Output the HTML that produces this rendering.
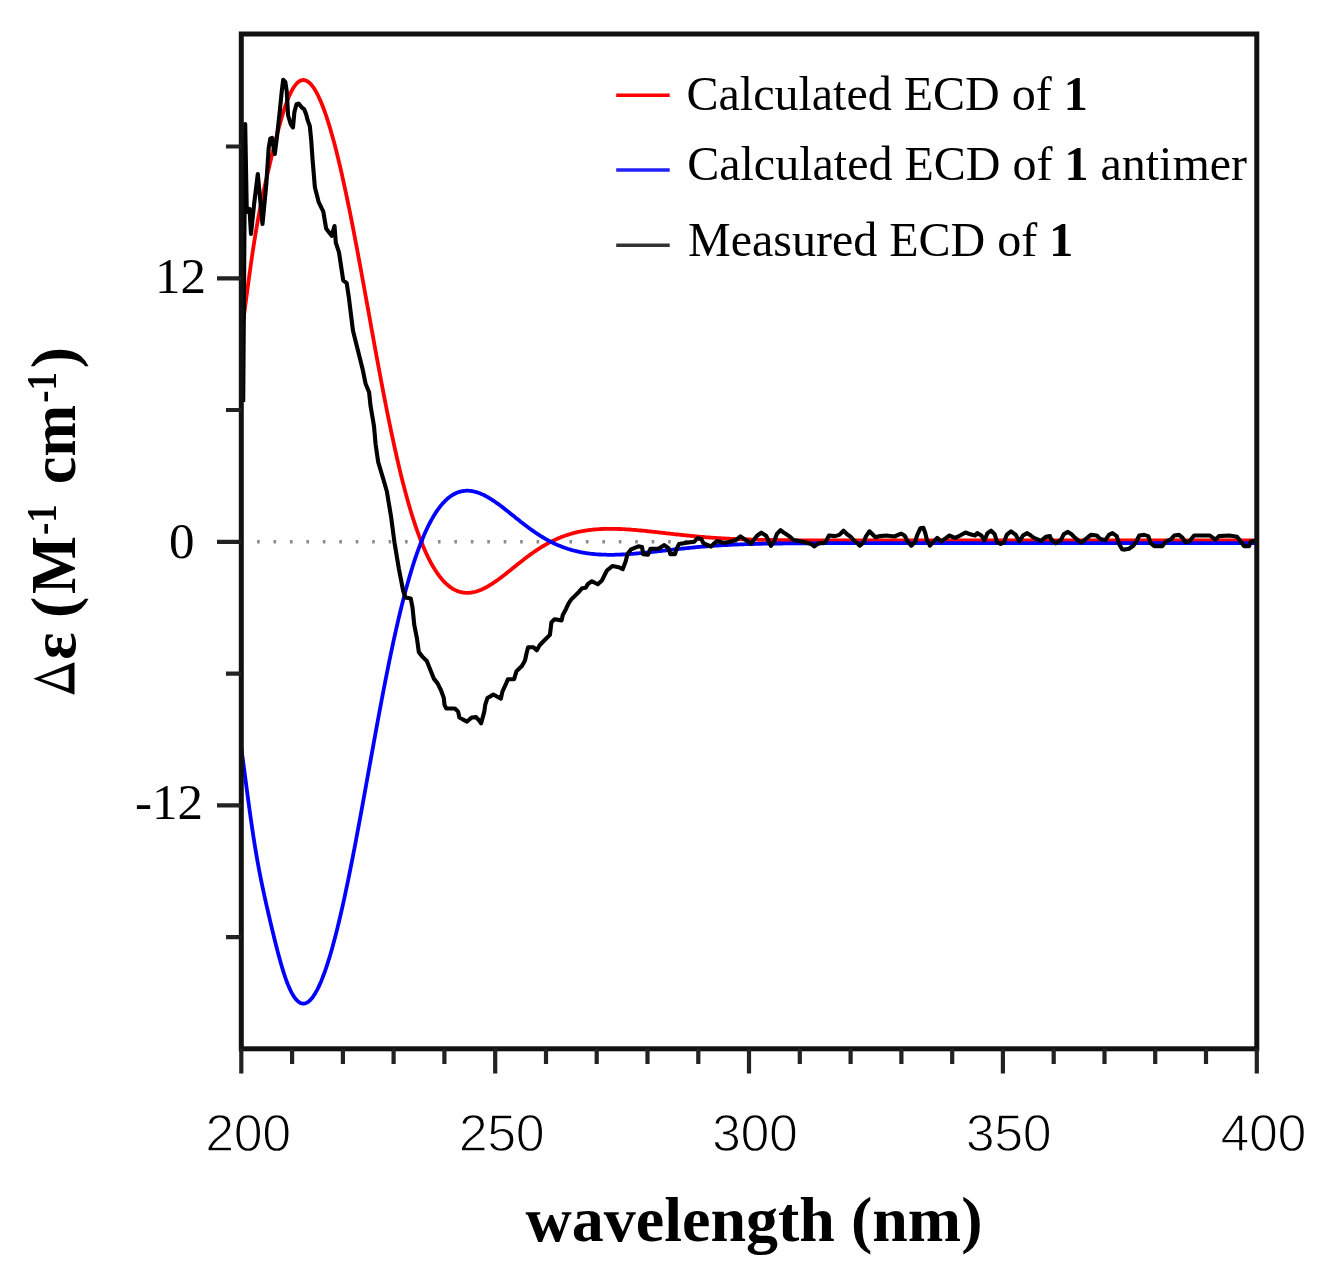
<!DOCTYPE html>
<html><head><meta charset="utf-8"><style>
html,body{margin:0;padding:0;background:#fff;width:1328px;height:1286px;overflow:hidden}
svg{position:absolute;left:0;top:0;will-change:transform}
</style></head><body>
<svg width="1328" height="1286" viewBox="0 0 1328 1286">
<rect x="0" y="0" width="1328" height="1286" fill="#fff"/>
<line x1="257.1" y1="541.8" x2="1254.8" y2="541.8" stroke="#8a8a8a" stroke-width="3.5" stroke-dasharray="2.6 13.84"/>
<path d="M241.3,335.7 L242.3,328.2 L243.3,320.7 L244.3,313.1 L245.3,305.5 L246.3,297.9 L247.3,290.4 L248.3,282.9 L249.3,275.6 L250.3,268.4 L251.3,261.3 L252.3,254.5 L253.3,247.8 L254.3,241.4 L255.3,235.2 L256.3,229.2 L257.3,223.5 L258.3,217.9 L259.3,212.6 L260.3,207.4 L261.3,202.4 L262.3,197.6 L263.3,192.9 L264.3,188.2 L265.3,183.7 L266.3,179.3 L267.3,174.9 L268.3,170.6 L269.3,166.3 L270.3,162.0 L271.3,157.8 L272.3,153.6 L273.3,149.5 L274.3,145.4 L275.3,141.4 L276.3,137.4 L277.3,133.5 L278.3,129.7 L279.3,126.0 L280.3,122.4 L281.3,118.9 L282.3,115.5 L283.3,112.2 L284.3,109.1 L285.3,106.1 L286.3,103.3 L287.3,100.6 L288.3,98.1 L289.3,95.8 L290.3,93.6 L291.3,91.5 L292.3,89.7 L293.3,88.0 L294.3,86.5 L295.3,85.1 L296.3,83.9 L297.3,82.9 L298.3,82.0 L299.3,81.3 L300.3,80.7 L301.3,80.3 L302.3,80.1 L303.3,80.0 L304.3,80.1 L305.3,80.3 L306.3,80.7 L307.3,81.2 L308.3,81.9 L309.3,82.7 L310.3,83.6 L311.3,84.7 L312.3,85.9 L313.3,87.3 L314.3,88.8 L315.3,90.4 L316.3,92.2 L317.3,94.0 L318.3,96.0 L319.3,98.2 L320.3,100.4 L321.3,102.7 L322.3,105.2 L323.3,107.8 L324.3,110.5 L325.3,113.3 L326.3,116.2 L327.3,119.3 L328.3,122.4 L329.3,125.6 L330.3,128.9 L331.3,132.4 L332.3,135.9 L333.3,139.5 L334.3,143.3 L335.3,147.1 L336.3,151.0 L337.3,155.0 L338.3,159.1 L339.3,163.3 L340.3,167.5 L341.3,171.8 L342.3,176.3 L343.3,180.8 L344.3,185.3 L345.3,190.0 L346.3,194.7 L347.3,199.5 L348.3,204.3 L349.3,209.2 L350.3,214.2 L351.3,219.2 L352.3,224.3 L353.3,229.4 L354.3,234.6 L355.3,239.8 L356.3,245.1 L357.3,250.4 L358.3,255.8 L359.3,261.2 L360.3,266.6 L361.3,272.0 L362.3,277.5 L363.3,283.0 L364.3,288.5 L365.3,294.0 L366.3,299.6 L367.3,305.1 L368.3,310.7 L369.3,316.2 L370.3,321.7 L371.3,327.3 L372.3,332.8 L373.3,338.3 L374.3,343.8 L375.3,349.3 L376.3,354.8 L377.3,360.2 L378.3,365.6 L379.3,371.0 L380.3,376.3 L381.3,381.6 L382.3,386.9 L383.3,392.1 L384.3,397.3 L385.3,402.4 L386.3,407.5 L387.3,412.5 L388.3,417.5 L389.3,422.4 L390.3,427.2 L391.3,432.0 L392.3,436.7 L393.3,441.4 L394.3,446.0 L395.3,450.5 L396.3,455.0 L397.3,459.3 L398.3,463.7 L399.3,467.9 L400.3,472.1 L401.3,476.2 L402.3,480.2 L403.3,484.1 L404.3,488.0 L405.3,491.8 L406.3,495.5 L407.3,499.1 L408.3,502.7 L409.3,506.1 L410.3,509.5 L411.3,512.9 L412.3,516.1 L413.3,519.3 L414.3,522.4 L415.3,525.4 L416.3,528.3 L417.3,531.2 L418.3,533.9 L419.3,536.6 L420.3,539.3 L421.3,541.8 L422.3,544.3 L423.3,546.7 L424.3,549.1 L425.3,551.3 L426.3,553.5 L427.3,555.6 L428.3,557.7 L429.3,559.7 L430.3,561.6 L431.3,563.5 L432.3,565.2 L433.3,567.0 L434.3,568.6 L435.3,570.2 L436.3,571.7 L437.3,573.2 L438.3,574.6 L439.3,576.0 L440.3,577.3 L441.3,578.5 L442.3,579.7 L443.3,580.8 L444.3,581.8 L445.3,582.9 L446.3,583.8 L447.3,584.7 L448.3,585.6 L449.3,586.4 L450.3,587.1 L451.3,587.8 L452.3,588.5 L453.3,589.1 L454.3,589.6 L455.3,590.1 L456.3,590.6 L457.3,591.0 L458.3,591.4 L459.3,591.7 L460.3,592.0 L461.3,592.2 L462.3,592.4 L463.3,592.6 L464.3,592.7 L465.3,592.8 L466.3,592.9 L467.3,592.9 L468.3,592.9 L469.3,592.8 L470.3,592.7 L471.3,592.6 L472.3,592.4 L473.3,592.2 L474.3,592.0 L475.3,591.8 L476.3,591.5 L477.3,591.2 L478.3,590.8 L479.3,590.5 L480.3,590.1 L481.3,589.7 L482.3,589.2 L483.3,588.8 L484.3,588.3 L485.3,587.8 L486.3,587.2 L487.3,586.7 L488.3,586.1 L489.3,585.5 L490.3,584.9 L491.3,584.3 L492.3,583.6 L493.3,583.0 L494.3,582.3 L495.3,581.6 L496.3,580.9 L497.3,580.2 L498.3,579.5 L499.3,578.8 L500.3,578.0 L501.3,577.3 L502.3,576.5 L503.3,575.7 L504.3,575.0 L505.3,574.2 L506.3,573.4 L507.3,572.6 L508.3,571.8 L509.3,571.0 L510.3,570.2 L511.3,569.4 L512.3,568.6 L513.3,567.8 L514.3,567.0 L515.3,566.2 L516.3,565.4 L517.3,564.6 L518.3,563.8 L519.3,563.0 L520.3,562.2 L521.3,561.4 L522.3,560.7 L523.3,559.9 L524.3,559.1 L525.3,558.3 L526.3,557.6 L527.3,556.8 L528.3,556.1 L529.3,555.4 L530.3,554.6 L531.3,553.9 L532.3,553.2 L533.3,552.5 L534.3,551.8 L535.3,551.1 L536.3,550.4 L537.3,549.8 L538.3,549.1 L539.3,548.5 L540.3,547.8 L541.3,547.2 L542.3,546.6 L543.3,546.0 L544.3,545.4 L545.3,544.8 L546.3,544.2 L547.3,543.7 L548.3,543.1 L549.3,542.6 L550.3,542.1 L551.3,541.6 L552.3,541.1 L553.3,540.6 L554.3,540.1 L555.3,539.6 L556.3,539.2 L557.3,538.7 L558.3,538.3 L559.3,537.9 L560.3,537.5 L561.3,537.1 L562.3,536.7 L563.3,536.3 L564.3,536.0 L565.3,535.6 L566.3,535.3 L567.3,534.9 L568.3,534.6 L569.3,534.3 L570.3,534.0 L571.3,533.7 L572.3,533.4 L573.3,533.1 L574.3,532.9 L575.3,532.6 L576.3,532.4 L577.3,532.2 L578.3,531.9 L579.3,531.7 L580.3,531.5 L581.3,531.3 L582.3,531.1 L583.3,531.0 L584.3,530.8 L585.3,530.6 L586.3,530.5 L587.3,530.3 L588.3,530.2 L589.3,530.0 L590.3,529.9 L591.3,529.8 L592.3,529.7 L593.3,529.6 L594.3,529.5 L595.3,529.4 L596.3,529.3 L597.3,529.3 L598.3,529.2 L599.3,529.1 L600.3,529.1 L601.3,529.0 L602.3,529.0 L603.3,528.9 L604.3,528.9 L605.3,528.9 L606.3,528.9 L607.3,528.8 L608.3,528.8 L609.3,528.8 L610.3,528.8 L611.3,528.8 L612.3,528.8 L613.3,528.8 L614.3,528.8 L615.3,528.9 L616.3,528.9 L617.3,528.9 L618.3,529.0 L619.3,529.0 L620.3,529.0 L621.3,529.1 L622.3,529.1 L623.3,529.2 L624.3,529.2 L625.3,529.3 L626.3,529.3 L627.3,529.4 L628.3,529.5 L629.3,529.5 L630.3,529.6 L631.3,529.7 L632.3,529.8 L633.3,529.8 L634.3,529.9 L635.3,530.0 L636.3,530.1 L637.3,530.2 L638.3,530.3 L639.3,530.4 L640.3,530.5 L641.3,530.5 L642.3,530.6 L643.3,530.7 L644.3,530.8 L645.3,530.9 L646.3,531.0 L647.3,531.1 L648.3,531.3 L649.3,531.4 L650.3,531.5 L651.3,531.6 L652.3,531.7 L653.3,531.8 L654.3,531.9 L655.3,532.0 L656.3,532.1 L657.3,532.2 L658.3,532.4 L659.3,532.5 L660.3,532.6 L661.3,532.7 L662.3,532.8 L663.3,532.9 L664.3,533.0 L665.3,533.1 L666.3,533.3 L667.3,533.4 L668.3,533.5 L669.3,533.6 L670.3,533.7 L671.3,533.8 L672.3,533.9 L673.3,534.0 L674.3,534.2 L675.3,534.3 L676.3,534.4 L677.3,534.5 L678.3,534.6 L679.3,534.7 L680.3,534.8 L681.3,534.9 L682.3,535.0 L683.3,535.1 L684.3,535.2 L685.3,535.3 L686.3,535.4 L687.3,535.5 L688.3,535.6 L689.3,535.7 L690.3,535.8 L691.3,535.9 L692.3,536.0 L693.3,536.1 L694.3,536.2 L695.3,536.3 L696.3,536.4 L697.3,536.5 L698.3,536.6 L699.3,536.7 L700.3,536.8 L701.3,536.9 L702.3,536.9 L703.3,537.0 L704.3,537.1 L705.3,537.2 L706.3,537.3 L707.3,537.3 L708.3,537.4 L709.3,537.5 L710.3,537.6 L711.3,537.6 L712.3,537.7 L713.3,537.8 L714.3,537.9 L715.3,537.9 L716.3,538.0 L717.3,538.1 L718.3,538.1 L719.3,538.2 L720.3,538.2 L721.3,538.3 L722.3,538.4 L723.3,538.4 L724.3,538.5 L725.3,538.5 L726.3,538.6 L727.3,538.6 L728.3,538.7 L729.3,538.7 L730.3,538.8 L731.3,538.8 L732.3,538.9 L733.3,538.9 L734.3,539.0 L735.3,539.0 L736.3,539.1 L737.3,539.1 L738.3,539.2 L739.3,539.2 L740.3,539.2 L741.3,539.3 L742.3,539.3 L743.3,539.3 L744.3,539.4 L745.3,539.4 L746.3,539.4 L747.3,539.5 L748.3,539.5 L749.3,539.5 L750.3,539.6 L751.3,539.6 L752.3,539.6 L753.3,539.6 L754.3,539.7 L755.3,539.7 L756.3,539.7 L757.3,539.7 L758.3,539.8 L759.3,539.8 L760.3,539.8 L761.3,539.8 L762.3,539.9 L763.3,539.9 L764.3,539.9 L765.3,539.9 L766.3,539.9 L767.3,540.0 L768.3,540.0 L769.3,540.0 L770.3,540.0 L771.3,540.0 L772.3,540.0 L773.3,540.0 L774.3,540.1 L775.3,540.1 L776.3,540.1 L777.3,540.1 L778.3,540.1 L779.3,540.1 L780.3,540.1 L781.3,540.1 L782.3,540.1 L783.3,540.2 L784.3,540.2 L785.3,540.2 L786.3,540.2 L787.3,540.2 L788.3,540.2 L789.3,540.2 L790.3,540.2 L791.3,540.2 L792.3,540.2 L793.3,540.2 L794.3,540.2 L795.3,540.3 L796.3,540.3 L797.3,540.3 L798.3,540.3 L799.3,540.3 L800.3,540.3 L801.3,540.3 L802.3,540.3 L803.3,540.3 L804.3,540.3 L805.3,540.3 L806.3,540.3 L807.3,540.3 L808.3,540.3 L809.3,540.3 L810.3,540.3 L811.3,540.3 L812.3,540.3 L813.3,540.3 L814.3,540.3 L815.3,540.3 L816.3,540.3 L817.3,540.3 L818.3,540.3 L819.3,540.3 L820.3,540.3 L821.3,540.3 L822.3,540.3 L823.3,540.3 L824.3,540.4 L825.3,540.4 L826.3,540.4 L827.3,540.4 L828.3,540.4 L829.3,540.4 L830.3,540.4 L831.3,540.4 L832.3,540.4 L833.3,540.4 L834.3,540.4 L835.3,540.4 L836.3,540.4 L837.3,540.4 L838.3,540.4 L839.3,540.4 L840.3,540.4 L841.3,540.4 L842.3,540.4 L843.3,540.4 L844.3,540.4 L845.3,540.4 L846.3,540.4 L847.3,540.4 L848.3,540.4 L849.3,540.4 L850.3,540.4 L851.3,540.4 L852.3,540.4 L853.3,540.4 L854.3,540.4 L855.3,540.4 L856.3,540.4 L857.3,540.4 L858.3,540.4 L859.3,540.4 L860.3,540.4 L861.3,540.4 L862.3,540.4 L863.3,540.4 L864.3,540.4 L865.3,540.4 L866.3,540.4 L867.3,540.4 L868.3,540.4 L869.3,540.4 L870.3,540.4 L871.3,540.4 L872.3,540.4 L873.3,540.4 L874.3,540.4 L875.3,540.4 L876.3,540.4 L877.3,540.4 L878.3,540.4 L879.3,540.4 L880.3,540.4 L881.3,540.4 L882.3,540.4 L883.3,540.4 L884.3,540.4 L885.3,540.4 L886.3,540.4 L887.3,540.4 L888.3,540.4 L889.3,540.4 L890.3,540.4 L891.3,540.4 L892.3,540.4 L893.3,540.4 L894.3,540.4 L895.3,540.4 L896.3,540.4 L897.3,540.4 L898.3,540.4 L899.3,540.4 L900.3,540.4 L901.3,540.4 L902.3,540.4 L903.3,540.4 L904.3,540.4 L905.3,540.4 L906.3,540.4 L907.3,540.4 L908.3,540.4 L909.3,540.4 L910.3,540.4 L911.3,540.4 L912.3,540.4 L913.3,540.4 L914.3,540.4 L915.3,540.4 L916.3,540.4 L917.3,540.4 L918.3,540.4 L919.3,540.4 L920.3,540.4 L921.3,540.4 L922.3,540.4 L923.3,540.4 L924.3,540.4 L925.3,540.4 L926.3,540.4 L927.3,540.4 L928.3,540.4 L929.3,540.4 L930.3,540.4 L931.3,540.4 L932.3,540.4 L933.3,540.4 L934.3,540.4 L935.3,540.4 L936.3,540.4 L937.3,540.4 L938.3,540.4 L939.3,540.4 L940.3,540.4 L941.3,540.4 L942.3,540.4 L943.3,540.4 L944.3,540.4 L945.3,540.4 L946.3,540.4 L947.3,540.4 L948.3,540.4 L949.3,540.4 L950.3,540.4 L951.3,540.4 L952.3,540.4 L953.3,540.4 L954.3,540.4 L955.3,540.4 L956.3,540.4 L957.3,540.4 L958.3,540.4 L959.3,540.4 L960.3,540.4 L961.3,540.4 L962.3,540.4 L963.3,540.4 L964.3,540.4 L965.3,540.4 L966.3,540.4 L967.3,540.4 L968.3,540.4 L969.3,540.4 L970.3,540.4 L971.3,540.4 L972.3,540.4 L973.3,540.4 L974.3,540.4 L975.3,540.4 L976.3,540.4 L977.3,540.4 L978.3,540.4 L979.3,540.4 L980.3,540.4 L981.3,540.4 L982.3,540.4 L983.3,540.4 L984.3,540.4 L985.3,540.4 L986.3,540.4 L987.3,540.4 L988.3,540.4 L989.3,540.4 L990.3,540.4 L991.3,540.4 L992.3,540.4 L993.3,540.4 L994.3,540.4 L995.3,540.4 L996.3,540.4 L997.3,540.4 L998.3,540.4 L999.3,540.4 L1000.3,540.4 L1001.3,540.4 L1002.3,540.4 L1003.3,540.4 L1004.3,540.4 L1005.3,540.4 L1006.3,540.4 L1007.3,540.4 L1008.3,540.4 L1009.3,540.4 L1010.3,540.4 L1011.3,540.4 L1012.3,540.4 L1013.3,540.4 L1014.3,540.4 L1015.3,540.4 L1016.3,540.4 L1017.3,540.4 L1018.3,540.4 L1019.3,540.4 L1020.3,540.4 L1021.3,540.4 L1022.3,540.4 L1023.3,540.4 L1024.3,540.4 L1025.3,540.4 L1026.3,540.4 L1027.3,540.4 L1028.3,540.4 L1029.3,540.4 L1030.3,540.4 L1031.3,540.4 L1032.3,540.4 L1033.3,540.4 L1034.3,540.4 L1035.3,540.4 L1036.3,540.4 L1037.3,540.4 L1038.3,540.4 L1039.3,540.4 L1040.3,540.4 L1041.3,540.4 L1042.3,540.4 L1043.3,540.4 L1044.3,540.4 L1045.3,540.4 L1046.3,540.4 L1047.3,540.4 L1048.3,540.4 L1049.3,540.4 L1050.3,540.4 L1051.3,540.4 L1052.3,540.4 L1053.3,540.4 L1054.3,540.4 L1055.3,540.4 L1056.3,540.4 L1057.3,540.4 L1058.3,540.4 L1059.3,540.4 L1060.3,540.4 L1061.3,540.4 L1062.3,540.4 L1063.3,540.4 L1064.3,540.4 L1065.3,540.4 L1066.3,540.4 L1067.3,540.4 L1068.3,540.4 L1069.3,540.4 L1070.3,540.4 L1071.3,540.4 L1072.3,540.4 L1073.3,540.4 L1074.3,540.4 L1075.3,540.4 L1076.3,540.4 L1077.3,540.4 L1078.3,540.4 L1079.3,540.4 L1080.3,540.4 L1081.3,540.4 L1082.3,540.4 L1083.3,540.4 L1084.3,540.4 L1085.3,540.4 L1086.3,540.4 L1087.3,540.4 L1088.3,540.4 L1089.3,540.4 L1090.3,540.4 L1091.3,540.4 L1092.3,540.4 L1093.3,540.4 L1094.3,540.4 L1095.3,540.4 L1096.3,540.4 L1097.3,540.4 L1098.3,540.4 L1099.3,540.4 L1100.3,540.4 L1101.3,540.4 L1102.3,540.4 L1103.3,540.4 L1104.3,540.4 L1105.3,540.4 L1106.3,540.4 L1107.3,540.4 L1108.3,540.4 L1109.3,540.4 L1110.3,540.4 L1111.3,540.4 L1112.3,540.4 L1113.3,540.4 L1114.3,540.4 L1115.3,540.4 L1116.3,540.4 L1117.3,540.4 L1118.3,540.4 L1119.3,540.4 L1120.3,540.4 L1121.3,540.4 L1122.3,540.4 L1123.3,540.4 L1124.3,540.4 L1125.3,540.4 L1126.3,540.4 L1127.3,540.4 L1128.3,540.4 L1129.3,540.4 L1130.3,540.4 L1131.3,540.4 L1132.3,540.4 L1133.3,540.4 L1134.3,540.4 L1135.3,540.4 L1136.3,540.4 L1137.3,540.4 L1138.3,540.4 L1139.3,540.4 L1140.3,540.4 L1141.3,540.4 L1142.3,540.4 L1143.3,540.4 L1144.3,540.4 L1145.3,540.4 L1146.3,540.4 L1147.3,540.4 L1148.3,540.4 L1149.3,540.4 L1150.3,540.4 L1151.3,540.4 L1152.3,540.4 L1153.3,540.4 L1154.3,540.4 L1155.3,540.4 L1156.3,540.4 L1157.3,540.4 L1158.3,540.4 L1159.3,540.4 L1160.3,540.4 L1161.3,540.4 L1162.3,540.4 L1163.3,540.4 L1164.3,540.4 L1165.3,540.4 L1166.3,540.4 L1167.3,540.4 L1168.3,540.4 L1169.3,540.4 L1170.3,540.4 L1171.3,540.4 L1172.3,540.4 L1173.3,540.4 L1174.3,540.4 L1175.3,540.4 L1176.3,540.4 L1177.3,540.4 L1178.3,540.4 L1179.3,540.4 L1180.3,540.4 L1181.3,540.4 L1182.3,540.4 L1183.3,540.4 L1184.3,540.4 L1185.3,540.4 L1186.3,540.4 L1187.3,540.4 L1188.3,540.4 L1189.3,540.4 L1190.3,540.4 L1191.3,540.4 L1192.3,540.4 L1193.3,540.4 L1194.3,540.4 L1195.3,540.4 L1196.3,540.4 L1197.3,540.4 L1198.3,540.4 L1199.3,540.4 L1200.3,540.4 L1201.3,540.4 L1202.3,540.4 L1203.3,540.4 L1204.3,540.4 L1205.3,540.4 L1206.3,540.4 L1207.3,540.4 L1208.3,540.4 L1209.3,540.4 L1210.3,540.4 L1211.3,540.4 L1212.3,540.4 L1213.3,540.4 L1214.3,540.4 L1215.3,540.4 L1216.3,540.4 L1217.3,540.4 L1218.3,540.4 L1219.3,540.4 L1220.3,540.4 L1221.3,540.4 L1222.3,540.4 L1223.3,540.4 L1224.3,540.4 L1225.3,540.4 L1226.3,540.4 L1227.3,540.4 L1228.3,540.4 L1229.3,540.4 L1230.3,540.4 L1231.3,540.4 L1232.3,540.4 L1233.3,540.4 L1234.3,540.4 L1235.3,540.4 L1236.3,540.4 L1237.3,540.4 L1238.3,540.4 L1239.3,540.4 L1240.3,540.4 L1241.3,540.4 L1242.3,540.4 L1243.3,540.4 L1244.3,540.4 L1245.3,540.4 L1246.3,540.4 L1247.3,540.4 L1248.3,540.4 L1249.3,540.4 L1250.3,540.4 L1251.3,540.4 L1252.3,540.4 L1253.3,540.4 L1254.3,540.4 L1255.3,540.4 L1256.3,540.4" fill="none" stroke="#ff0000" stroke-width="3.8" stroke-linejoin="round"/>
<path d="M241.3,747.9 L242.3,755.4 L243.3,762.9 L244.3,770.5 L245.3,778.1 L246.3,785.7 L247.3,793.2 L248.3,800.7 L249.3,808.0 L250.3,815.2 L251.3,822.3 L252.3,829.1 L253.3,835.8 L254.3,842.2 L255.3,848.4 L256.3,854.4 L257.3,860.1 L258.3,865.7 L259.3,871.0 L260.3,876.2 L261.3,881.2 L262.3,886.0 L263.3,890.7 L264.3,895.4 L265.3,899.9 L266.3,904.3 L267.3,908.7 L268.3,913.0 L269.3,917.3 L270.3,921.6 L271.3,925.8 L272.3,930.0 L273.3,934.1 L274.3,938.2 L275.3,942.2 L276.3,946.2 L277.3,950.1 L278.3,953.9 L279.3,957.6 L280.3,961.2 L281.3,964.7 L282.3,968.1 L283.3,971.4 L284.3,974.5 L285.3,977.5 L286.3,980.3 L287.3,983.0 L288.3,985.5 L289.3,987.8 L290.3,990.0 L291.3,992.1 L292.3,993.9 L293.3,995.6 L294.3,997.1 L295.3,998.5 L296.3,999.7 L297.3,1000.7 L298.3,1001.6 L299.3,1002.3 L300.3,1002.9 L301.3,1003.3 L302.3,1003.5 L303.3,1003.6 L304.3,1003.5 L305.3,1003.3 L306.3,1002.9 L307.3,1002.4 L308.3,1001.7 L309.3,1000.9 L310.3,1000.0 L311.3,998.9 L312.3,997.7 L313.3,996.3 L314.3,994.8 L315.3,993.2 L316.3,991.4 L317.3,989.6 L318.3,987.6 L319.3,985.4 L320.3,983.2 L321.3,980.9 L322.3,978.4 L323.3,975.8 L324.3,973.1 L325.3,970.3 L326.3,967.4 L327.3,964.3 L328.3,961.2 L329.3,958.0 L330.3,954.7 L331.3,951.2 L332.3,947.7 L333.3,944.1 L334.3,940.3 L335.3,936.5 L336.3,932.6 L337.3,928.6 L338.3,924.5 L339.3,920.3 L340.3,916.1 L341.3,911.8 L342.3,907.3 L343.3,902.8 L344.3,898.3 L345.3,893.6 L346.3,888.9 L347.3,884.1 L348.3,879.3 L349.3,874.4 L350.3,869.4 L351.3,864.4 L352.3,859.3 L353.3,854.2 L354.3,849.0 L355.3,843.8 L356.3,838.5 L357.3,833.2 L358.3,827.8 L359.3,822.4 L360.3,817.0 L361.3,811.6 L362.3,806.1 L363.3,800.6 L364.3,795.1 L365.3,789.6 L366.3,784.0 L367.3,778.5 L368.3,772.9 L369.3,767.4 L370.3,761.9 L371.3,756.3 L372.3,750.8 L373.3,745.3 L374.3,739.8 L375.3,734.3 L376.3,728.8 L377.3,723.4 L378.3,718.0 L379.3,712.6 L380.3,707.3 L381.3,702.0 L382.3,696.7 L383.3,691.5 L384.3,686.3 L385.3,681.2 L386.3,676.1 L387.3,671.1 L388.3,666.1 L389.3,661.2 L390.3,656.4 L391.3,651.6 L392.3,646.9 L393.3,642.2 L394.3,637.6 L395.3,633.1 L396.3,628.6 L397.3,624.3 L398.3,619.9 L399.3,615.7 L400.3,611.5 L401.3,607.4 L402.3,603.4 L403.3,599.5 L404.3,595.6 L405.3,591.8 L406.3,588.1 L407.3,584.5 L408.3,580.9 L409.3,577.5 L410.3,574.1 L411.3,570.7 L412.3,567.5 L413.3,564.3 L414.3,561.2 L415.3,558.2 L416.3,555.3 L417.3,552.4 L418.3,549.7 L419.3,547.0 L420.3,544.3 L421.3,541.8 L422.3,539.3 L423.3,536.9 L424.3,534.5 L425.3,532.3 L426.3,530.1 L427.3,528.0 L428.3,525.9 L429.3,523.9 L430.3,522.0 L431.3,520.1 L432.3,518.4 L433.3,516.6 L434.3,515.0 L435.3,513.4 L436.3,511.9 L437.3,510.4 L438.3,509.0 L439.3,507.6 L440.3,506.3 L441.3,505.1 L442.3,503.9 L443.3,502.8 L444.3,501.8 L445.3,500.7 L446.3,499.8 L447.3,498.9 L448.3,498.0 L449.3,497.2 L450.3,496.5 L451.3,495.8 L452.3,495.1 L453.3,494.5 L454.3,494.0 L455.3,493.5 L456.3,493.0 L457.3,492.6 L458.3,492.2 L459.3,491.9 L460.3,491.6 L461.3,491.4 L462.3,491.2 L463.3,491.0 L464.3,490.9 L465.3,490.8 L466.3,490.7 L467.3,490.7 L468.3,490.7 L469.3,490.8 L470.3,490.9 L471.3,491.0 L472.3,491.2 L473.3,491.4 L474.3,491.6 L475.3,491.8 L476.3,492.1 L477.3,492.4 L478.3,492.8 L479.3,493.1 L480.3,493.5 L481.3,493.9 L482.3,494.4 L483.3,494.8 L484.3,495.3 L485.3,495.8 L486.3,496.4 L487.3,496.9 L488.3,497.5 L489.3,498.1 L490.3,498.7 L491.3,499.3 L492.3,500.0 L493.3,500.6 L494.3,501.3 L495.3,502.0 L496.3,502.7 L497.3,503.4 L498.3,504.1 L499.3,504.8 L500.3,505.6 L501.3,506.3 L502.3,507.1 L503.3,507.9 L504.3,508.6 L505.3,509.4 L506.3,510.2 L507.3,511.0 L508.3,511.8 L509.3,512.6 L510.3,513.4 L511.3,514.2 L512.3,515.0 L513.3,515.8 L514.3,516.6 L515.3,517.4 L516.3,518.2 L517.3,519.0 L518.3,519.8 L519.3,520.6 L520.3,521.4 L521.3,522.2 L522.3,522.9 L523.3,523.7 L524.3,524.5 L525.3,525.3 L526.3,526.0 L527.3,526.8 L528.3,527.5 L529.3,528.2 L530.3,529.0 L531.3,529.7 L532.3,530.4 L533.3,531.1 L534.3,531.8 L535.3,532.5 L536.3,533.2 L537.3,533.8 L538.3,534.5 L539.3,535.1 L540.3,535.8 L541.3,536.4 L542.3,537.0 L543.3,537.6 L544.3,538.2 L545.3,538.8 L546.3,539.4 L547.3,539.9 L548.3,540.5 L549.3,541.0 L550.3,541.5 L551.3,542.0 L552.3,542.5 L553.3,543.0 L554.3,543.5 L555.3,544.0 L556.3,544.4 L557.3,544.9 L558.3,545.3 L559.3,545.7 L560.3,546.1 L561.3,546.5 L562.3,546.9 L563.3,547.3 L564.3,547.6 L565.3,548.0 L566.3,548.3 L567.3,548.7 L568.3,549.0 L569.3,549.3 L570.3,549.6 L571.3,549.9 L572.3,550.2 L573.3,550.5 L574.3,550.7 L575.3,551.0 L576.3,551.2 L577.3,551.4 L578.3,551.7 L579.3,551.9 L580.3,552.1 L581.3,552.3 L582.3,552.5 L583.3,552.6 L584.3,552.8 L585.3,553.0 L586.3,553.1 L587.3,553.3 L588.3,553.4 L589.3,553.6 L590.3,553.7 L591.3,553.8 L592.3,553.9 L593.3,554.0 L594.3,554.1 L595.3,554.2 L596.3,554.3 L597.3,554.3 L598.3,554.4 L599.3,554.5 L600.3,554.5 L601.3,554.6 L602.3,554.6 L603.3,554.7 L604.3,554.7 L605.3,554.7 L606.3,554.7 L607.3,554.8 L608.3,554.8 L609.3,554.8 L610.3,554.8 L611.3,554.8 L612.3,554.8 L613.3,554.8 L614.3,554.8 L615.3,554.7 L616.3,554.7 L617.3,554.7 L618.3,554.6 L619.3,554.6 L620.3,554.6 L621.3,554.5 L622.3,554.5 L623.3,554.4 L624.3,554.4 L625.3,554.3 L626.3,554.3 L627.3,554.2 L628.3,554.1 L629.3,554.1 L630.3,554.0 L631.3,553.9 L632.3,553.8 L633.3,553.8 L634.3,553.7 L635.3,553.6 L636.3,553.5 L637.3,553.4 L638.3,553.3 L639.3,553.2 L640.3,553.1 L641.3,553.1 L642.3,553.0 L643.3,552.9 L644.3,552.8 L645.3,552.7 L646.3,552.6 L647.3,552.5 L648.3,552.3 L649.3,552.2 L650.3,552.1 L651.3,552.0 L652.3,551.9 L653.3,551.8 L654.3,551.7 L655.3,551.6 L656.3,551.5 L657.3,551.4 L658.3,551.2 L659.3,551.1 L660.3,551.0 L661.3,550.9 L662.3,550.8 L663.3,550.7 L664.3,550.6 L665.3,550.5 L666.3,550.3 L667.3,550.2 L668.3,550.1 L669.3,550.0 L670.3,549.9 L671.3,549.8 L672.3,549.7 L673.3,549.6 L674.3,549.4 L675.3,549.3 L676.3,549.2 L677.3,549.1 L678.3,549.0 L679.3,548.9 L680.3,548.8 L681.3,548.7 L682.3,548.6 L683.3,548.5 L684.3,548.4 L685.3,548.3 L686.3,548.2 L687.3,548.1 L688.3,548.0 L689.3,547.9 L690.3,547.8 L691.3,547.7 L692.3,547.6 L693.3,547.5 L694.3,547.4 L695.3,547.3 L696.3,547.2 L697.3,547.1 L698.3,547.0 L699.3,546.9 L700.3,546.8 L701.3,546.7 L702.3,546.7 L703.3,546.6 L704.3,546.5 L705.3,546.4 L706.3,546.3 L707.3,546.3 L708.3,546.2 L709.3,546.1 L710.3,546.0 L711.3,546.0 L712.3,545.9 L713.3,545.8 L714.3,545.7 L715.3,545.7 L716.3,545.6 L717.3,545.5 L718.3,545.5 L719.3,545.4 L720.3,545.4 L721.3,545.3 L722.3,545.2 L723.3,545.2 L724.3,545.1 L725.3,545.1 L726.3,545.0 L727.3,545.0 L728.3,544.9 L729.3,544.9 L730.3,544.8 L731.3,544.8 L732.3,544.7 L733.3,544.7 L734.3,544.6 L735.3,544.6 L736.3,544.5 L737.3,544.5 L738.3,544.4 L739.3,544.4 L740.3,544.4 L741.3,544.3 L742.3,544.3 L743.3,544.3 L744.3,544.2 L745.3,544.2 L746.3,544.2 L747.3,544.1 L748.3,544.1 L749.3,544.1 L750.3,544.0 L751.3,544.0 L752.3,544.0 L753.3,544.0 L754.3,543.9 L755.3,543.9 L756.3,543.9 L757.3,543.9 L758.3,543.8 L759.3,543.8 L760.3,543.8 L761.3,543.8 L762.3,543.7 L763.3,543.7 L764.3,543.7 L765.3,543.7 L766.3,543.7 L767.3,543.6 L768.3,543.6 L769.3,543.6 L770.3,543.6 L771.3,543.6 L772.3,543.6 L773.3,543.6 L774.3,543.5 L775.3,543.5 L776.3,543.5 L777.3,543.5 L778.3,543.5 L779.3,543.5 L780.3,543.5 L781.3,543.5 L782.3,543.5 L783.3,543.4 L784.3,543.4 L785.3,543.4 L786.3,543.4 L787.3,543.4 L788.3,543.4 L789.3,543.4 L790.3,543.4 L791.3,543.4 L792.3,543.4 L793.3,543.4 L794.3,543.4 L795.3,543.3 L796.3,543.3 L797.3,543.3 L798.3,543.3 L799.3,543.3 L800.3,543.3 L801.3,543.3 L802.3,543.3 L803.3,543.3 L804.3,543.3 L805.3,543.3 L806.3,543.3 L807.3,543.3 L808.3,543.3 L809.3,543.3 L810.3,543.3 L811.3,543.3 L812.3,543.3 L813.3,543.3 L814.3,543.3 L815.3,543.3 L816.3,543.3 L817.3,543.3 L818.3,543.3 L819.3,543.3 L820.3,543.3 L821.3,543.3 L822.3,543.3 L823.3,543.3 L824.3,543.2 L825.3,543.2 L826.3,543.2 L827.3,543.2 L828.3,543.2 L829.3,543.2 L830.3,543.2 L831.3,543.2 L832.3,543.2 L833.3,543.2 L834.3,543.2 L835.3,543.2 L836.3,543.2 L837.3,543.2 L838.3,543.2 L839.3,543.2 L840.3,543.2 L841.3,543.2 L842.3,543.2 L843.3,543.2 L844.3,543.2 L845.3,543.2 L846.3,543.2 L847.3,543.2 L848.3,543.2 L849.3,543.2 L850.3,543.2 L851.3,543.2 L852.3,543.2 L853.3,543.2 L854.3,543.2 L855.3,543.2 L856.3,543.2 L857.3,543.2 L858.3,543.2 L859.3,543.2 L860.3,543.2 L861.3,543.2 L862.3,543.2 L863.3,543.2 L864.3,543.2 L865.3,543.2 L866.3,543.2 L867.3,543.2 L868.3,543.2 L869.3,543.2 L870.3,543.2 L871.3,543.2 L872.3,543.2 L873.3,543.2 L874.3,543.2 L875.3,543.2 L876.3,543.2 L877.3,543.2 L878.3,543.2 L879.3,543.2 L880.3,543.2 L881.3,543.2 L882.3,543.2 L883.3,543.2 L884.3,543.2 L885.3,543.2 L886.3,543.2 L887.3,543.2 L888.3,543.2 L889.3,543.2 L890.3,543.2 L891.3,543.2 L892.3,543.2 L893.3,543.2 L894.3,543.2 L895.3,543.2 L896.3,543.2 L897.3,543.2 L898.3,543.2 L899.3,543.2 L900.3,543.2 L901.3,543.2 L902.3,543.2 L903.3,543.2 L904.3,543.2 L905.3,543.2 L906.3,543.2 L907.3,543.2 L908.3,543.2 L909.3,543.2 L910.3,543.2 L911.3,543.2 L912.3,543.2 L913.3,543.2 L914.3,543.2 L915.3,543.2 L916.3,543.2 L917.3,543.2 L918.3,543.2 L919.3,543.2 L920.3,543.2 L921.3,543.2 L922.3,543.2 L923.3,543.2 L924.3,543.2 L925.3,543.2 L926.3,543.2 L927.3,543.2 L928.3,543.2 L929.3,543.2 L930.3,543.2 L931.3,543.2 L932.3,543.2 L933.3,543.2 L934.3,543.2 L935.3,543.2 L936.3,543.2 L937.3,543.2 L938.3,543.2 L939.3,543.2 L940.3,543.2 L941.3,543.2 L942.3,543.2 L943.3,543.2 L944.3,543.2 L945.3,543.2 L946.3,543.2 L947.3,543.2 L948.3,543.2 L949.3,543.2 L950.3,543.2 L951.3,543.2 L952.3,543.2 L953.3,543.2 L954.3,543.2 L955.3,543.2 L956.3,543.2 L957.3,543.2 L958.3,543.2 L959.3,543.2 L960.3,543.2 L961.3,543.2 L962.3,543.2 L963.3,543.2 L964.3,543.2 L965.3,543.2 L966.3,543.2 L967.3,543.2 L968.3,543.2 L969.3,543.2 L970.3,543.2 L971.3,543.2 L972.3,543.2 L973.3,543.2 L974.3,543.2 L975.3,543.2 L976.3,543.2 L977.3,543.2 L978.3,543.2 L979.3,543.2 L980.3,543.2 L981.3,543.2 L982.3,543.2 L983.3,543.2 L984.3,543.2 L985.3,543.2 L986.3,543.2 L987.3,543.2 L988.3,543.2 L989.3,543.2 L990.3,543.2 L991.3,543.2 L992.3,543.2 L993.3,543.2 L994.3,543.2 L995.3,543.2 L996.3,543.2 L997.3,543.2 L998.3,543.2 L999.3,543.2 L1000.3,543.2 L1001.3,543.2 L1002.3,543.2 L1003.3,543.2 L1004.3,543.2 L1005.3,543.2 L1006.3,543.2 L1007.3,543.2 L1008.3,543.2 L1009.3,543.2 L1010.3,543.2 L1011.3,543.2 L1012.3,543.2 L1013.3,543.2 L1014.3,543.2 L1015.3,543.2 L1016.3,543.2 L1017.3,543.2 L1018.3,543.2 L1019.3,543.2 L1020.3,543.2 L1021.3,543.2 L1022.3,543.2 L1023.3,543.2 L1024.3,543.2 L1025.3,543.2 L1026.3,543.2 L1027.3,543.2 L1028.3,543.2 L1029.3,543.2 L1030.3,543.2 L1031.3,543.2 L1032.3,543.2 L1033.3,543.2 L1034.3,543.2 L1035.3,543.2 L1036.3,543.2 L1037.3,543.2 L1038.3,543.2 L1039.3,543.2 L1040.3,543.2 L1041.3,543.2 L1042.3,543.2 L1043.3,543.2 L1044.3,543.2 L1045.3,543.2 L1046.3,543.2 L1047.3,543.2 L1048.3,543.2 L1049.3,543.2 L1050.3,543.2 L1051.3,543.2 L1052.3,543.2 L1053.3,543.2 L1054.3,543.2 L1055.3,543.2 L1056.3,543.2 L1057.3,543.2 L1058.3,543.2 L1059.3,543.2 L1060.3,543.2 L1061.3,543.2 L1062.3,543.2 L1063.3,543.2 L1064.3,543.2 L1065.3,543.2 L1066.3,543.2 L1067.3,543.2 L1068.3,543.2 L1069.3,543.2 L1070.3,543.2 L1071.3,543.2 L1072.3,543.2 L1073.3,543.2 L1074.3,543.2 L1075.3,543.2 L1076.3,543.2 L1077.3,543.2 L1078.3,543.2 L1079.3,543.2 L1080.3,543.2 L1081.3,543.2 L1082.3,543.2 L1083.3,543.2 L1084.3,543.2 L1085.3,543.2 L1086.3,543.2 L1087.3,543.2 L1088.3,543.2 L1089.3,543.2 L1090.3,543.2 L1091.3,543.2 L1092.3,543.2 L1093.3,543.2 L1094.3,543.2 L1095.3,543.2 L1096.3,543.2 L1097.3,543.2 L1098.3,543.2 L1099.3,543.2 L1100.3,543.2 L1101.3,543.2 L1102.3,543.2 L1103.3,543.2 L1104.3,543.2 L1105.3,543.2 L1106.3,543.2 L1107.3,543.2 L1108.3,543.2 L1109.3,543.2 L1110.3,543.2 L1111.3,543.2 L1112.3,543.2 L1113.3,543.2 L1114.3,543.2 L1115.3,543.2 L1116.3,543.2 L1117.3,543.2 L1118.3,543.2 L1119.3,543.2 L1120.3,543.2 L1121.3,543.2 L1122.3,543.2 L1123.3,543.2 L1124.3,543.2 L1125.3,543.2 L1126.3,543.2 L1127.3,543.2 L1128.3,543.2 L1129.3,543.2 L1130.3,543.2 L1131.3,543.2 L1132.3,543.2 L1133.3,543.2 L1134.3,543.2 L1135.3,543.2 L1136.3,543.2 L1137.3,543.2 L1138.3,543.2 L1139.3,543.2 L1140.3,543.2 L1141.3,543.2 L1142.3,543.2 L1143.3,543.2 L1144.3,543.2 L1145.3,543.2 L1146.3,543.2 L1147.3,543.2 L1148.3,543.2 L1149.3,543.2 L1150.3,543.2 L1151.3,543.2 L1152.3,543.2 L1153.3,543.2 L1154.3,543.2 L1155.3,543.2 L1156.3,543.2 L1157.3,543.2 L1158.3,543.2 L1159.3,543.2 L1160.3,543.2 L1161.3,543.2 L1162.3,543.2 L1163.3,543.2 L1164.3,543.2 L1165.3,543.2 L1166.3,543.2 L1167.3,543.2 L1168.3,543.2 L1169.3,543.2 L1170.3,543.2 L1171.3,543.2 L1172.3,543.2 L1173.3,543.2 L1174.3,543.2 L1175.3,543.2 L1176.3,543.2 L1177.3,543.2 L1178.3,543.2 L1179.3,543.2 L1180.3,543.2 L1181.3,543.2 L1182.3,543.2 L1183.3,543.2 L1184.3,543.2 L1185.3,543.2 L1186.3,543.2 L1187.3,543.2 L1188.3,543.2 L1189.3,543.2 L1190.3,543.2 L1191.3,543.2 L1192.3,543.2 L1193.3,543.2 L1194.3,543.2 L1195.3,543.2 L1196.3,543.2 L1197.3,543.2 L1198.3,543.2 L1199.3,543.2 L1200.3,543.2 L1201.3,543.2 L1202.3,543.2 L1203.3,543.2 L1204.3,543.2 L1205.3,543.2 L1206.3,543.2 L1207.3,543.2 L1208.3,543.2 L1209.3,543.2 L1210.3,543.2 L1211.3,543.2 L1212.3,543.2 L1213.3,543.2 L1214.3,543.2 L1215.3,543.2 L1216.3,543.2 L1217.3,543.2 L1218.3,543.2 L1219.3,543.2 L1220.3,543.2 L1221.3,543.2 L1222.3,543.2 L1223.3,543.2 L1224.3,543.2 L1225.3,543.2 L1226.3,543.2 L1227.3,543.2 L1228.3,543.2 L1229.3,543.2 L1230.3,543.2 L1231.3,543.2 L1232.3,543.2 L1233.3,543.2 L1234.3,543.2 L1235.3,543.2 L1236.3,543.2 L1237.3,543.2 L1238.3,543.2 L1239.3,543.2 L1240.3,543.2 L1241.3,543.2 L1242.3,543.2 L1243.3,543.2 L1244.3,543.2 L1245.3,543.2 L1246.3,543.2 L1247.3,543.2 L1248.3,543.2 L1249.3,543.2 L1250.3,543.2 L1251.3,543.2 L1252.3,543.2 L1253.3,543.2 L1254.3,543.2 L1255.3,543.2 L1256.3,543.2" fill="none" stroke="#0000ff" stroke-width="3.8" stroke-linejoin="round"/>
<path d="M243.2,402.0 L245.2,124.0 L246.8,212.0 L249.5,209.0 L251.0,234.0 L254.0,205.0 L257.8,174.0 L262.5,224.0 L266.3,184.0 L268.7,148.0 L270.3,138.6 L272.0,137.9 L274.8,154.0 L276.9,137.2 L279.7,112.0 L281.8,91.0 L283.2,79.8 L285.3,81.9 L286.7,91.0 L288.1,115.5 L290.9,124.6 L293.0,127.4 L294.4,112.0 L296.5,104.3 L298.6,103.6 L302.1,107.8 L304.2,109.2 L306.3,114.8 L307.7,120.4 L309.8,126.0 L311.2,140.0 L312.6,160.0 L314.9,187.3 L318.7,202.2 L323.3,211.6 L326.1,228.4 L331.7,235.8 L334.5,226.0 L335.8,242.6 L339.0,252.4 L341.1,266.4 L343.2,280.3 L346.7,283.1 L348.8,297.1 L350.9,313.9 L353.0,330.7 L356.5,344.7 L360.0,358.7 L362.8,369.9 L365.6,383.8 L369.1,392.2 L370.5,405.7 L374.0,426.2 L375.7,445.0 L378.2,462.1 L383.4,479.3 L386.8,491.2 L391.1,516.9 L394.5,542.6 L398.8,568.3 L403.1,590.5 L405.4,597.5 L410.7,598.4 L412.5,607.4 L414.3,625.2 L417.0,638.7 L418.8,652.1 L422.4,656.6 L426.8,661.0 L430.4,670.0 L434.0,678.9 L437.6,683.4 L441.1,690.5 L443.8,698.0 L444.5,704.9 L446.3,708.5 L454.9,708.5 L458.1,711.6 L459.4,717.5 L462.6,719.3 L467.1,721.6 L471.6,717.5 L476.1,717.1 L479.3,720.7 L481.1,723.4 L484.3,711.6 L485.2,704.9 L487.4,698.1 L489.7,696.7 L493.3,694.5 L496.5,696.3 L500.9,698.6 L502.4,691.6 L506.3,683.1 L507.9,679.2 L514.1,679.2 L516.4,671.4 L521.9,666.0 L525.0,660.5 L526.5,653.5 L528.1,647.3 L533.5,647.3 L536.7,650.4 L539.8,645.0 L546.0,638.8 L549.9,634.9 L551.4,622.4 L554.5,619.3 L561.6,620.4 L562.8,615.0 L565.9,609.2 L568.6,603.3 L571.3,599.4 L575.2,595.6 L579.1,591.7 L582.2,588.2 L585.7,587.8 L588.0,583.9 L591.9,581.2 L597.8,584.3 L601.7,580.8 L606.9,570.5 L612.3,566.1 L618.9,567.2 L622.7,569.2 L625.7,561.3 L627.5,554.1 L631.1,549.3 L638.4,546.3 L642.0,546.9 L643.2,554.1 L648.0,554.7 L650.4,548.7 L658.3,548.7 L664.3,545.1 L668.5,548.1 L670.3,554.1 L675.0,554.1 L676.5,548.9 L679.0,544.1 L685.1,542.9 L694.1,541.7 L697.7,538.1 L701.3,539.3 L703.7,543.5 L711.0,546.5 L713.4,544.1 L717.0,541.1 L724.2,542.9 L730.2,541.7 L736.3,539.9 L740.5,536.3 L744.7,539.3 L751.0,543.5 L757.0,535.7 L761.3,532.7 L766.1,535.7 L770.9,545.9 L773.9,541.7 L776.9,533.9 L780.5,530.2 L784.8,533.3 L790.2,536.9 L793.2,539.9 L799.2,541.1 L805.2,542.3 L811.3,544.1 L814.3,546.5 L817.3,544.1 L820.3,542.9 L825.0,542.9 L829.0,535.5 L835.1,536.1 L839.3,534.9 L843.5,530.7 L847.1,534.3 L850.7,536.7 L853.7,540.3 L857.3,543.3 L859.8,545.7 L863.4,542.7 L865.8,536.7 L869.4,531.3 L872.4,534.3 L875.4,537.3 L880.2,536.1 L886.3,535.5 L894.5,536.5 L901.0,533.7 L904.6,535.5 L907.0,540.3 L911.3,545.7 L914.9,542.1 L917.3,534.9 L920.3,528.3 L923.3,527.7 L925.1,532.5 L926.9,539.7 L929.9,545.7 L933.0,542.1 L937.2,537.9 L941.4,541.5 L946.2,537.9 L949.2,535.5 L955.2,537.9 L960.1,535.5 L965.5,532.5 L970.3,534.3 L975.0,535.5 L977.2,533.1 L981.4,535.5 L984.5,540.3 L987.5,533.1 L991.1,530.7 L994.7,534.3 L997.1,542.1 L1000.7,543.9 L1003.7,542.7 L1006.7,534.9 L1011.0,531.3 L1015.8,534.9 L1019.4,541.5 L1023.0,535.5 L1027.2,533.1 L1030.8,535.5 L1033.9,537.9 L1041.1,540.9 L1045.9,536.7 L1050.0,536.1 L1051.0,539.1 L1055.8,543.3 L1060.7,540.3 L1063.7,534.3 L1067.9,531.9 L1071.5,534.3 L1075.1,537.9 L1081.1,542.7 L1087.2,537.9 L1090.8,534.9 L1096.8,535.5 L1100.4,539.1 L1105.2,540.3 L1108.9,534.9 L1112.5,533.1 L1116.7,536.1 L1119.1,543.9 L1122.1,549.3 L1124.7,549.6 L1129.0,548.7 L1133.3,545.7 L1136.3,541.5 L1139.3,535.5 L1144.1,534.9 L1148.3,536.1 L1150.7,543.3 L1154.3,546.3 L1162.2,546.3 L1165.8,541.5 L1171.2,539.1 L1174.2,535.5 L1179.0,534.9 L1182.7,537.9 L1185.1,542.1 L1189.3,541.5 L1194.1,535.5 L1202.0,535.5 L1209.9,535.5 L1215.3,539.7 L1218.9,536.1 L1229.2,535.5 L1237.0,536.7 L1240.6,541.5 L1244.2,546.3 L1249.0,546.3 L1250.8,541.5 L1255.7,540.9" fill="none" stroke="#000" stroke-width="4.1" stroke-linejoin="round"/>
<rect x="241.3" y="34.0" width="1015.5" height="1014.8" fill="none" stroke="#111" stroke-width="5"/>
<path d="M241.3,1048.8 V1073.5 M292.1,1048.8 V1064 M342.9,1048.8 V1064 M393.6,1048.8 V1064 M444.4,1048.8 V1064 M495.2,1048.8 V1073.5 M546.0,1048.8 V1064 M596.7,1048.8 V1064 M647.5,1048.8 V1064 M698.3,1048.8 V1064 M749.0,1048.8 V1073.5 M799.8,1048.8 V1064 M850.6,1048.8 V1064 M901.4,1048.8 V1064 M952.2,1048.8 V1064 M1002.9,1048.8 V1073.5 M1053.7,1048.8 V1064 M1104.5,1048.8 V1064 M1155.2,1048.8 V1064 M1206.0,1048.8 V1064 M1256.8,1048.8 V1073.5 M226,146.5 H241.3 M217,278.3 H241.3 M226,410.0 H241.3 M217,541.8 H241.3 M226,673.6 H241.3 M217,805.3 H241.3 M226,937.1 H241.3" stroke="#222" stroke-width="4.2" fill="none"/>
<g font-family="'Liberation Serif', serif" font-size="51" fill="#000">
<text x="155" y="292.6">12</text>
<text x="169" y="557.6">0</text>
<text x="135" y="818.8">-12</text>
</g>
<g font-family="'Liberation Sans', sans-serif" font-size="52" fill="#000" stroke="#fff" stroke-width="1.3" letter-spacing="-0.4">
<text x="205.3" y="1150.8">200</text>
<text x="458.7" y="1150.8">250</text>
<text x="712" y="1150.8">300</text>
<text x="965.8" y="1150.8">350</text>
<text x="1220.5" y="1150.8">400</text>
</g>
<text x="525.6" y="1241" font-family="'Liberation Serif', serif" font-weight="bold" font-size="64" fill="#000">wavelength (nm)</text>
<path d="M33.3,678.8 L74.5,662.3 L74.5,694.8 Z M40.9,678.8 L68.6,688.3 L68.6,669.3 Z" fill="#000" fill-rule="evenodd"/>
<g transform="translate(75.3,0) rotate(-90)" font-family="'Liberation Serif', serif" fill="#000">
<text x="-659.7" font-size="64" font-weight="bold">ε</text>
<text x="-617.9" font-size="64" font-weight="bold">(</text>
<text transform="translate(-594.1,0) scale(0.96,1)" font-size="64" font-weight="bold">M</text>
<text transform="translate(-535,-19.4) scale(0.88,1)" font-size="42" font-weight="bold">-1</text>
<text transform="translate(-484.3,0) scale(0.973,1)" font-size="64" font-weight="bold">cm</text>
<text transform="translate(-402.7,-19.4) scale(0.88,1)" font-size="42" font-weight="bold">-1</text>
<text x="-368.2" font-size="64" font-weight="bold">)</text>
</g>
<g stroke-width="3.5">
<line x1="616.2" y1="95.3" x2="669.7" y2="95.3" stroke="#ff0000"/>
<line x1="616.2" y1="169.9" x2="669.7" y2="169.9" stroke="#2222ff"/>
<line x1="616.2" y1="245.2" x2="669.7" y2="245.2" stroke="#333"/>
</g>
<g font-family="'Liberation Serif', serif" font-size="48" fill="#000">
<text x="686.5" y="109.7">Calculated ECD of <tspan font-weight="bold">1</tspan></text>
<text x="687.2" y="180.4">Calculated ECD of <tspan font-weight="bold">1</tspan> antimer</text>
<text x="688" y="255.8">Measured ECD of <tspan font-weight="bold">1</tspan></text>
</g>
</svg>
</body></html>
